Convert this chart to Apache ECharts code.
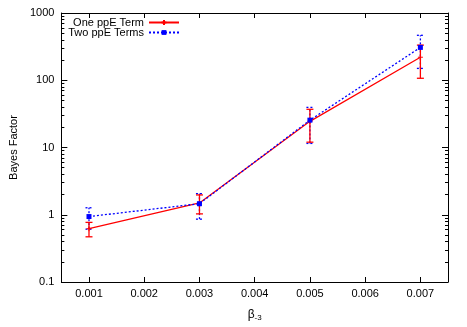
<!DOCTYPE html>
<html>
<head>
<meta charset="utf-8">
<script src="https://cdn.jsdelivr.net/npm/echarts@6/dist/echarts.min.js"></script>
<style>
  html, body { margin: 0; padding: 0; background: #fff; }
  #chart { width: 467px; height: 327px; }
</style>
</head>
<body>
<div id="chart"></div>
<script>
// beta_-3 values
const betaVals = [0.001, 0.003, 0.005, 0.007];
// one ppE term: bayes factor and error
const oneVals = [0.62, 1.5, 24.5, 220];
const oneErr = [0.15, 0.47, 12.5, 113];
// two ppE terms
const twoVals = [0.94, 1.46, 25.5, 308];
const twoErr = [0.33, 0.6, 14, 158];
// tick labels
const xTicks = [0.001, 0.002, 0.003, 0.004, 0.005, 0.006, 0.007];
const yTicks = [0.1, 1, 10, 100, 1000];

const FONT = "Liberation Sans";
const RED = "#ff0000";
const BLUE = "#0000ff";

// minor ticks for log axis (2..9 in each decade)
const yMinor = [];
yTicks.slice(0, -1).forEach((d) => {
  for (let k = 2; k <= 9; k++) yMinor.push(+(d * k).toPrecision(3));
});

const pairs = (xs, ys) => xs.map((x, i) => [x, ys[i]]);
const errData = (xs, ys, es) => xs.map((x, i) => [x, ys[i] - es[i], ys[i] + es[i]]);

const errBars = (color, dash) => (params, api) => {
  const x = api.value(0);
  const lo = api.coord([x, api.value(1)]);
  const hi = api.coord([x, api.value(2)]);
  const w = 3.5;
  const style = { stroke: color, lineWidth: 1.3, lineDash: dash };
  return {
    type: "group",
    children: [
      { type: "line", shape: { x1: lo[0], y1: lo[1], x2: hi[0], y2: hi[1] }, style },
      { type: "line", shape: { x1: lo[0] - w, y1: lo[1], x2: lo[0] + w, y2: lo[1] }, style },
      { type: "line", shape: { x1: hi[0] - w, y1: hi[1], x2: hi[0] + w, y2: hi[1] }, style },
    ],
  };
};

const xBase = { type: "value", min: 0.0005, max: 0.0075, splitLine: { show: false } };
const yBase = { type: "log", logBase: 10, min: 0.1, max: 1000, splitLine: { show: false } };
const lineAxis = { show: true, lineStyle: { color: "#000", width: 1 } };
const legendBase = {
  right: 287,
  padding: 0,
  align: "right",
  itemWidth: 30,
  itemHeight: 6,
  textStyle: { fontFamily: FONT, fontSize: 11, color: "#000" },
};

const chart = echarts.init(document.getElementById("chart"));
chart.setOption({
  animation: false,
  textStyle: { fontFamily: FONT },
  grid: { left: 57, right: 19, top: 13, bottom: 44 },
  legend: [
    { ...legendBase, data: ["One ppE Term"], top: 17 },
    { ...legendBase, data: ["Two ppE Terms"], top: 27 },
  ],
  xAxis: [
    {
      ...xBase,
      position: "bottom",
      axisLine: lineAxis,
      axisTick: { inside: true, length: 5, customValues: xTicks, lineStyle: { color: "#000" } },
      axisLabel: {
        customValues: xTicks,
        formatter: (v) => v.toFixed(3),
        fontSize: 11,
        color: "#000",
        margin: 6,
      },
      name: "{b|β}{s|-3}",
      nameLocation: "middle",
      nameGap: 26,
      nameTextStyle: {
        rich: {
          b: { fontSize: 12, color: "#000", fontFamily: FONT },
          s: { fontSize: 8, color: "#000", fontFamily: FONT, padding: [6, 0, 0, 0] },
        },
      },
    },
    {
      ...xBase,
      position: "top",
      axisLine: lineAxis,
      axisTick: { inside: true, length: 5, customValues: xTicks, lineStyle: { color: "#000" } },
      axisLabel: { show: false },
    },
  ],
  yAxis: [
    {
      ...yBase,
      position: "left",
      axisLine: lineAxis,
      axisTick: { inside: true, length: 6, customValues: yTicks, lineStyle: { color: "#000" } },
      axisLabel: {
        customValues: yTicks,
        formatter: (v) => String(v),
        fontSize: 11,
        color: "#000",
        margin: 7,
      },
      name: "Bayes Factor",
      nameLocation: "middle",
      nameGap: 40,
      nameTextStyle: { fontSize: 11, color: "#000" },
    },
    {
      ...yBase,
      position: "left",
      axisLine: { show: false },
      axisTick: { inside: true, length: 3, customValues: yMinor, lineStyle: { color: "#000" } },
      axisLabel: { show: false },
    },
    {
      ...yBase,
      position: "right",
      axisLine: lineAxis,
      axisTick: { inside: true, length: 6, customValues: yTicks, lineStyle: { color: "#000" } },
      axisLabel: { show: false },
    },
    {
      ...yBase,
      position: "right",
      axisLine: { show: false },
      axisTick: { inside: true, length: 3, customValues: yMinor, lineStyle: { color: "#000" } },
      axisLabel: { show: false },
    },
  ],
  series: [
    {
      name: "Two ppE Terms err",
      type: "custom",
      renderItem: errBars(BLUE, [2, 2]),
      encode: { x: 0, y: [1, 2] },
      data: errData(betaVals, twoVals, twoErr),
      z: 2,
    },
    {
      name: "One ppE Term err",
      type: "custom",
      renderItem: errBars(RED, null),
      encode: { x: 0, y: [1, 2] },
      data: errData(betaVals, oneVals, oneErr),
      z: 3,
    },
    {
      name: "One ppE Term",
      type: "line",
      data: pairs(betaVals, oneVals),
      lineStyle: { color: RED, width: 1.3 },
      itemStyle: { color: RED, borderColor: RED, borderWidth: 1 },
      symbol: "path://M0,5L10,5M5,0L5,10",
      symbolSize: 5,
      z: 4,
    },
    {
      name: "Two ppE Terms",
      type: "line",
      data: pairs(betaVals, twoVals),
      lineStyle: { color: BLUE, width: 1.3, type: [2, 2] },
      itemStyle: { color: BLUE, borderColor: BLUE, borderWidth: 0 },
      symbol: "rect",
      symbolSize: 5,
      z: 5,
    },
  ],
});
</script>
</body>
</html>
